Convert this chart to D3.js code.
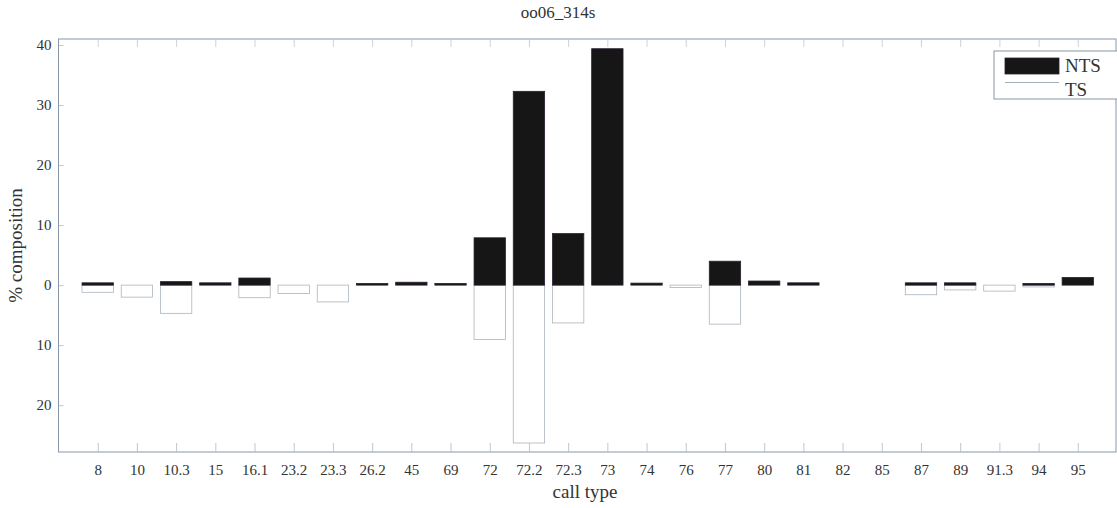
<!DOCTYPE html>
<html>
<head>
<meta charset="utf-8">
<script src="https://cdn.jsdelivr.net/npm/d3@7"></script>
<style>
  html, body { margin: 0; padding: 0; background: #fff; }
  svg { display: block; }
</style>
</head>
<body>
<svg id="chart" width="1117" height="508"></svg>
<script>
// ---- data ----
const categories = ["8","10","10.3","15","16.1","23.2","23.3","26.2","45","69","72","72.2","72.3","73","74","76","77","80","81","82","85","87","89","91.3","94","95"];
const ntsValues = [0.3, 0, 0.5, 0.3, 1.1, 0, 0, 0.2, 0.4, 0.2, 7.8, 32.2, 8.5, 39.3, 0.25, 0, 3.9, 0.6, 0.3, 0, 0, 0.3, 0.3, 0, 0.2, 1.2];
const tsValues  = [-1.2, -2.0, -4.7, 0, -2.1, -1.4, -2.8, 0, 0, 0, -9.05, -26.3, -6.3, 0, 0, -0.4, -6.5, 0, 0, 0, 0, -1.6, -0.8, -1.0, -0.3, 0];
const yTicks = [40, 30, 20, 10, 0, -10, -20];
const seriesNames = ["NTS", "TS"];
const titleText = "oo06_314s";
const xLabel = "call type";
const yLabel = "% composition";

(function () {
const FONT = "'Liberation Serif', 'Times New Roman', serif";
const TXT = "#333";
// ---- layout ----
const mLeft = 58.5, mRight = 1116, mTop = 39, mBottom = 452;
const svg = d3.select("#chart");
const axisColor = "#8896a6";

const x = d3.scaleLinear().domain([0, categories.length + 1]).range([mLeft, 1117]);
const y = d3.scaleLinear().domain([-27.8, 41]).range([mBottom, mTop]);
const barW = (x(1) - x(0)) * 0.8;

// TS bars (white with thin outline)
svg.append("g").selectAll("rect")
  .data(tsValues.map((v, i) => ({v, i})).filter(d => d.v !== 0))
  .join("rect")
  .attr("x", d => x(d.i + 1) - barW / 2)
  .attr("width", barW)
  .attr("y", y(0))
  .attr("height", d => y(d.v) - y(0))
  .attr("fill", "#fff")
  .attr("stroke", "#aab4be")
  .attr("stroke-width", 0.8);

// NTS bars (black)
svg.append("g").selectAll("rect")
  .data(ntsValues.map((v, i) => ({v, i})).filter(d => d.v !== 0))
  .join("rect")
  .attr("x", d => x(d.i + 1) - barW / 2)
  .attr("width", barW)
  .attr("y", d => y(d.v) - 0.5)
  .attr("height", d => y(0) - y(d.v) + 0.5)
  .attr("fill", "#161616")
  .attr("stroke", "#2a2030")
  .attr("stroke-width", 0.8);

// box
svg.append("rect")
  .attr("x", mLeft).attr("y", mTop)
  .attr("width", mRight - mLeft).attr("height", mBottom - mTop)
  .attr("fill", "none").attr("stroke", axisColor).attr("stroke-width", 1);

// x axis (bottom) with inward ticks
const xAxis = d3.axisBottom(x)
  .tickValues(d3.range(1, categories.length + 1))
  .tickFormat(d => categories[d - 1])
  .tickSizeInner(-9).tickSizeOuter(0).tickPadding(12);
const gx = svg.append("g").attr("transform", `translate(0,${mBottom})`).call(xAxis);
gx.select(".domain").remove();
gx.selectAll(".tick line").attr("stroke", "#b0b9c2").attr("stroke-width", 0.8);
gx.selectAll(".tick text").style("font-size", "15px").style("font-family", FONT).style("fill", TXT);

// top ticks
const xTop = d3.axisTop(x)
  .tickValues(d3.range(1, categories.length + 1))
  .tickFormat("")
  .tickSizeInner(-8).tickSizeOuter(0);
const gxt = svg.append("g").attr("transform", `translate(0,${mTop})`).call(xTop);
gxt.select(".domain").remove();
gxt.selectAll(".tick line").attr("stroke", "#c0c8d0").attr("stroke-width", 0.8);

// y axis
const yAxis = d3.axisLeft(y)
  .tickValues(yTicks)
  .tickFormat(d => Math.abs(d))
  .tickSizeInner(-5).tickSizeOuter(0).tickPadding(7);
const gy = svg.append("g").attr("transform", `translate(${mLeft},0)`).call(yAxis);
gy.select(".domain").remove();
gy.selectAll(".tick line").attr("stroke", "#b0b9c2").attr("stroke-width", 0.8);
gy.selectAll(".tick text").style("font-size", "15px").style("font-family", FONT).style("fill", TXT);

// title
svg.append("text").attr("x", 558).attr("y", 18)
  .attr("text-anchor", "middle").style("font-family", FONT).style("font-size", "17px").style("fill", TXT).text(titleText);

// x label
svg.append("text").attr("x", 585).attr("y", 498)
  .attr("text-anchor", "middle").style("font-family", FONT).style("font-size", "19px").style("fill", TXT).text(xLabel);

// y label
svg.append("text")
  .attr("transform", `translate(22,${(mTop + mBottom) / 2}) rotate(-90)`)
  .attr("text-anchor", "middle").style("font-family", FONT).style("font-size", "19px").style("fill", TXT).text(yLabel);

// legend
const lg = svg.append("g");
lg.append("rect").attr("x", 994).attr("y", 51).attr("width", 130).attr("height", 48)
  .attr("fill", "#fff").attr("stroke", axisColor).attr("stroke-width", 1);
lg.append("rect").attr("x", 1005).attr("y", 58).attr("width", 54).attr("height", 16)
  .attr("fill", "#161616").attr("stroke", "#2a2030").attr("stroke-width", 0.8);
lg.append("line").attr("x1", 1005).attr("x2", 1059).attr("y1", 82.5).attr("y2", 82.5)
  .attr("stroke", "#9aa6b2").attr("stroke-width", 0.9);
lg.append("text").attr("x", 1065).attr("y", 72).style("font-family", FONT).style("font-size", "19px").style("fill", TXT).text(seriesNames[0]);
lg.append("text").attr("x", 1065).attr("y", 96).style("font-family", FONT).style("font-size", "19px").style("fill", TXT).text(seriesNames[1]);
})();
</script>
</body>
</html>
